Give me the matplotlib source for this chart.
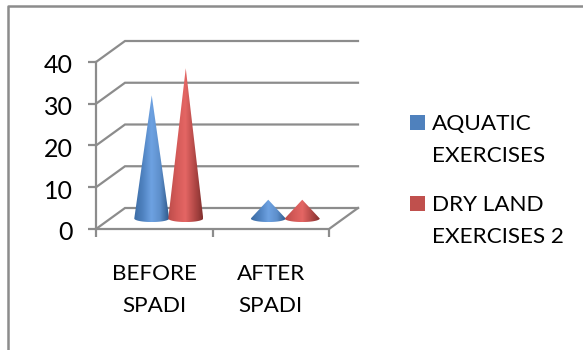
import numpy as np
import matplotlib
matplotlib.use("Agg")
import matplotlib.pyplot as plt
from matplotlib.colors import LinearSegmentedColormap
from matplotlib.lines import Line2D
from matplotlib.patches import Polygon, Rectangle
from matplotlib.transforms import ScaledTranslation

plt.rcParams['font.family'] = ['Lato', 'DejaVu Sans']

categories = ["BEFORE\nSPADI", "AFTER\nSPADI"]
aquatic = [29.5, 4.5]
dry_land = [36, 4.5]
series_names = ["AQUATIC\nEXERCISES", "DRY LAND\nEXERCISES 2"]
y_ticks = [0, 10, 20, 30, 40]

W, H = 583, 350
GRAY = "#8c8c8c"
# size of the 3d depth, in data units
DEPTH_X = 29 / 116.5
DEPTH_Y = 21 / 4.175
CONE_SHIFT = 0.146
CONE_HALF = 0.15
BASE_RY = 0.85

blue_cmap = LinearSegmentedColormap.from_list("b", ["#3c6ca4", "#4f82c0", "#6ea2e2", "#5d8fcb", "#2f5a8c"])
red_cmap = LinearSegmentedColormap.from_list("r", ["#bc4c4a", "#d45a58", "#e46664", "#b54a48", "#82302e"])


def fx(px):
    return px / W


def fy(py):
    return 1 - py / H


fig = plt.figure(figsize=(W / 100, H / 100), dpi=100, facecolor="white")
ax = fig.add_axes([fx(96), fy(229), fx(233), (229 - 62) / H])
ax.set_xlim(0, 2)
ax.set_ylim(0, 40)
ax.patch.set_visible(False)
for s in ax.spines.values():
    s.set_visible(False)

# walls and floor
for v in y_ticks:
    ax.plot([0, DEPTH_X, 2 + DEPTH_X], [v, v + DEPTH_Y, v + DEPTH_Y], color=GRAY, lw=1.6,
            clip_on=False, zorder=1, solid_joinstyle="miter")
ax.plot([0, 0], [0, 40], color=GRAY, lw=1.6, clip_on=False, zorder=2)
ax.plot([0, 2, 2 + DEPTH_X], [0, 0, DEPTH_Y], color=GRAY, lw=1.6, clip_on=False, zorder=2)

ax.set_yticks(y_ticks)
ax.set_xticks([0, 1, 2])
ax.set_xticks([0.5, 1.5], minor=True)
ax.set_xticklabels([])
ax.set_xticklabels(categories, minor=True, fontsize=16.2, linespacing=1.75, color="black")
ax.tick_params(axis="y", length=6, width=1.6, color=GRAY, pad=10.5, labelsize=18, labelcolor="black")
ax.tick_params(axis="x", which="major", length=5.5, width=1.6, color=GRAY)
ax.tick_params(axis="x", which="minor", length=0, pad=25)
# digits sit a bit high in this font
for lab in ax.get_yticklabels():
    lab.set_transform(lab.get_transform() + ScaledTranslation(0, -2 / 100, fig.dpi_scale_trans))


def draw_cone(x0, value, cmap):
    xc = x0 + DEPTH_X / 2
    yb = DEPTH_Y / 2
    t = np.linspace(np.pi, 2 * np.pi, 40)
    arc = np.column_stack([xc + CONE_HALF * np.cos(t), yb + BASE_RY * np.sin(t)])
    pts = np.vstack([[[xc, yb + value]], arc])
    clip = Polygon(pts, closed=True, transform=ax.transData, fc="none", ec="none")
    ax.add_patch(clip)
    grad = np.linspace(0, 1, 128).reshape(1, -1)
    im = ax.imshow(grad, cmap=cmap, aspect="auto", interpolation="bilinear", zorder=3,
                   extent=[xc - CONE_HALF, xc + CONE_HALF, yb - BASE_RY, yb + value])
    im.set_clip_path(clip)


for i in range(len(categories)):
    draw_cone(i + 0.5 - CONE_SHIFT, aquatic[i], blue_cmap)
    draw_cone(i + 0.5 + CONE_SHIFT, dry_land[i], red_cmap)
ax.set_xlim(0, 2)
ax.set_ylim(0, 40)

# outer chart border, only top and left show
fig.add_artist(Line2D([fx(8), fx(8), fx(583)], [0, fy(6), fy(6)], color=GRAY, lw=1.8))

# legend
legend_colors = ["#4f81bd", "#c0504d"]
legend_tops = [115, 196]
for name, col, top in zip(series_names, legend_colors, legend_tops):
    fig.add_artist(Rectangle((fx(410), fy(top + 15)), 15 / W, 15 / H, transform=fig.transFigure,
                             fc=col, ec="none"))
    fig.text(fx(432), fy(top - 1), name, fontsize=16.2, va="top", ha="left", linespacing=1.75, color="black")

fig.savefig("out.png", dpi=100)
